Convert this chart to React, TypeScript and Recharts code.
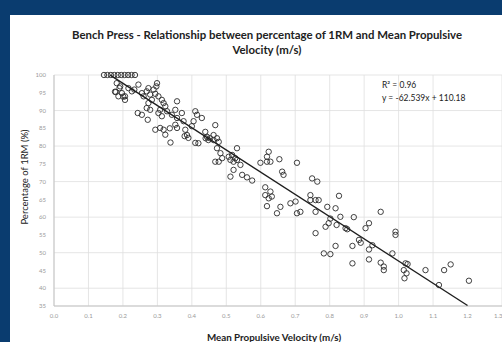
import React from "react";
import { ScatterChart, Scatter, XAxis, YAxis, CartesianGrid } from "recharts";

// velocity (m/s) readings
const velocity = [
  0.145, 0.155, 0.165, 0.175, 0.185, 0.195, 0.205, 0.215, 0.225, 0.235,
  0.182, 0.192, 0.179, 0.197, 0.206, 0.187, 0.206, 0.216, 0.226, 0.233,
  0.245, 0.255, 0.26, 0.269, 0.274, 0.279, 0.289, 0.299, 0.297, 0.294,
  0.303, 0.284, 0.274, 0.269, 0.279, 0.313, 0.318, 0.323, 0.308, 0.303,
  0.313, 0.328, 0.357, 0.352, 0.342, 0.357, 0.371, 0.376, 0.352, 0.357,
  0.243, 0.255, 0.272, 0.294, 0.308, 0.318, 0.323, 0.41, 0.415, 0.405,
  0.4, 0.381, 0.379, 0.39, 0.41, 0.429, 0.419, 0.439, 0.444, 0.468,
  0.463, 0.473, 0.478, 0.453, 0.468, 0.478, 0.483, 0.507, 0.526, 0.531,
  0.541, 0.521, 0.512, 0.546, 0.56, 0.575, 0.386, 0.448, 0.44, 0.473,
  0.488, 0.517, 0.512, 0.521, 0.531, 0.599, 0.618, 0.623, 0.618, 0.628,
  0.654, 0.705, 0.613, 0.628, 0.613, 0.623, 0.632, 0.618, 0.662, 0.666,
  0.657, 0.647, 0.686, 0.701, 0.705, 0.715, 0.749, 0.764, 0.744, 0.744,
  0.759, 0.768, 0.793, 0.817, 0.827, 0.831, 0.759, 0.802, 0.87, 0.797,
  0.788, 0.82, 0.759, 0.846, 0.851, 0.904, 0.914, 0.948, 0.885, 0.89,
  0.866, 0.817, 0.783, 0.802, 0.866, 0.914, 0.924, 0.914, 0.948, 0.957,
  0.957, 0.991, 0.991, 0.982, 1.02, 1.026, 1.015, 1.023, 1.017, 1.078,
  1.132, 1.151, 1.204, 1.117, 0.177, 0.201, 0.19, 0.336, 0.338, 0.463,
];

// % of 1RM for each reading above
const percent1RM = [
  100, 100, 100, 100, 100, 100, 100, 100, 100, 100,
  97.7, 96.8, 95.2, 94.9, 94.0, 94.0, 93.0, 96.3, 95.4, 95.9,
  97.3, 94.9, 94.0, 95.4, 96.3, 94.5, 95.9, 97.7, 96.8, 94.7,
  94.0, 93.0, 92.1, 90.7, 90.2, 93.0, 92.1, 91.2, 90.2, 89.3,
  88.4, 89.8, 92.6, 90.2, 88.8, 87.9, 89.3, 87.0, 86.0, 85.1,
  89.3, 88.8, 87.4, 84.6, 85.1, 84.6, 83.2, 89.8, 88.8, 87.0,
  85.6, 84.6, 82.8, 82.3, 80.9, 87.9, 80.8, 84.0, 82.6, 85.9,
  83.1, 82.2, 81.2, 82.2, 75.6, 75.6, 78.0, 77.0, 76.6, 79.4,
  74.7, 73.3, 71.4, 71.9, 71.2, 70.3, 83.1, 81.7, 82.2, 79.4,
  76.6, 77.5, 76.1, 75.6, 76.1, 75.3, 75.6, 78.4, 77.0, 75.6,
  76.3, 75.3, 68.4, 67.2, 66.2, 65.3, 65.8, 63.1, 72.8, 71.9,
  62.9, 61.1, 63.9, 64.4, 61.1, 61.5, 70.9, 70.0, 66.2, 64.8,
  64.8, 64.8, 62.9, 62.5, 66.0, 60.1, 61.5, 59.6, 60.0, 58.3,
  57.3, 57.8, 55.5, 56.9, 56.6, 56.9, 58.3, 61.5, 53.6, 52.8,
  51.9, 51.9, 49.8, 49.6, 47.0, 50.9, 52.1, 48.1, 47.2, 46.1,
  45.1, 55.9, 55.0, 49.8, 47.0, 46.8, 45.1, 44.2, 42.8, 45.1,
  45.1, 46.7, 42.1, 40.9, 95.3, 93.9, 96.3, 85.0, 81.0, 81.7,
];

const xTicks = [0, 0.1, 0.2, 0.3, 0.4, 0.5, 0.6, 0.7, 0.8, 0.9, 1.0, 1.1, 1.2, 1.3];
const yTicks = [35, 40, 45, 50, 55, 60, 65, 70, 75, 80, 85, 90, 95, 100];

// linear fit shown on the chart
const slope = -62.539;
const intercept = 110.18;
const r2 = 0.96;
const fitRange = [0.163, 1.2];

const points = velocity.map((v, i) => ({ x: v, y: percent1RM[i] }));
const fitLine = fitRange.map((x) => ({ x, y: slope * x + intercept }));

const font = "Lato, 'Liberation Sans', sans-serif";

const OpenCircle = (props: any) => {
  const { cx, cy } = props;
  if (cx == null || cy == null) return <g />;
  return <circle cx={cx} cy={cy} r={2.7} fill="none" stroke="#2b2b2b" strokeWidth={0.9} />;
};

export default function App() {
  return (
    <div
      style={{
        position: "absolute",
        left: 0,
        top: 0,
        width: 502,
        height: 342,
        background: "#0a3c6f",
        overflow: "hidden",
        fontFamily: font,
      }}
    >
      <div
        style={{
          position: "absolute",
          left: 10,
          top: 15,
          width: 492,
          height: 327,
          background: "#fff",
        }}
      />
      <div
        style={{
          position: "absolute",
          left: 27,
          width: 480,
          top: 27,
          textAlign: "center",
          fontSize: 11.4,
          fontWeight: 700,
          lineHeight: "15px",
          color: "#222",
        }}
      >
        Bench Press - Relationship between percentage of 1RM and Mean Propulsive
        <br />
        Velocity (m/s)
      </div>
      <div style={{ position: "absolute", left: 0, top: 0 }}>
        <ScatterChart
          width={502}
          height={342}
          margin={{ top: 75, right: 0, bottom: 16, left: 24 }}
        >
          <CartesianGrid stroke="#dedede" strokeWidth={0.8} />
          <XAxis
            type="number"
            dataKey="x"
            domain={[0, 1.3]}
            ticks={xTicks}
            tickFormatter={(v: number) => v.toFixed(1)}
            height={20}
            tickLine={false}
            axisLine={{ stroke: "#c4c4c4" }}
            tick={{ fontSize: 6, fill: "#9a9a9a", fontFamily: font }}
          />
          <YAxis
            type="number"
            dataKey="y"
            domain={[35, 100]}
            ticks={yTicks}
            width={30}
            tickLine={false}
            axisLine={{ stroke: "#c4c4c4" }}
            tick={{ fontSize: 6, fill: "#9a9a9a", fontFamily: font }}
          />
          <Scatter data={points} shape={OpenCircle} isAnimationActive={false} />
          <Scatter
            data={fitLine}
            line={{ stroke: "#1e1e1e", strokeWidth: 1.4 }}
            shape={() => <g />}
            isAnimationActive={false}
          />
        </ScatterChart>
      </div>
      <div
        style={{
          position: "absolute",
          left: 382,
          top: 79,
          fontSize: 8.5,
          lineHeight: "13px",
          color: "#222",
          whiteSpace: "nowrap",
        }}
      >
        R² = {r2.toFixed(2)}
        <br />
        y = {slope}x + {intercept}
      </div>
      <div
        style={{
          position: "absolute",
          left: 24,
          top: 177,
          transform: "translate(-50%, -50%) rotate(-90deg)",
          fontSize: 9.5,
          color: "#222",
          whiteSpace: "nowrap",
        }}
      >
        Percentage of 1RM (%)
      </div>
      <div
        style={{
          position: "absolute",
          left: 274,
          top: 337,
          transform: "translate(-50%, -50%)",
          fontSize: 9.8,
          fontWeight: 700,
          color: "#222",
          whiteSpace: "nowrap",
        }}
      >
        Mean Propulsive Velocity (m/s)
      </div>
    </div>
  );
}
